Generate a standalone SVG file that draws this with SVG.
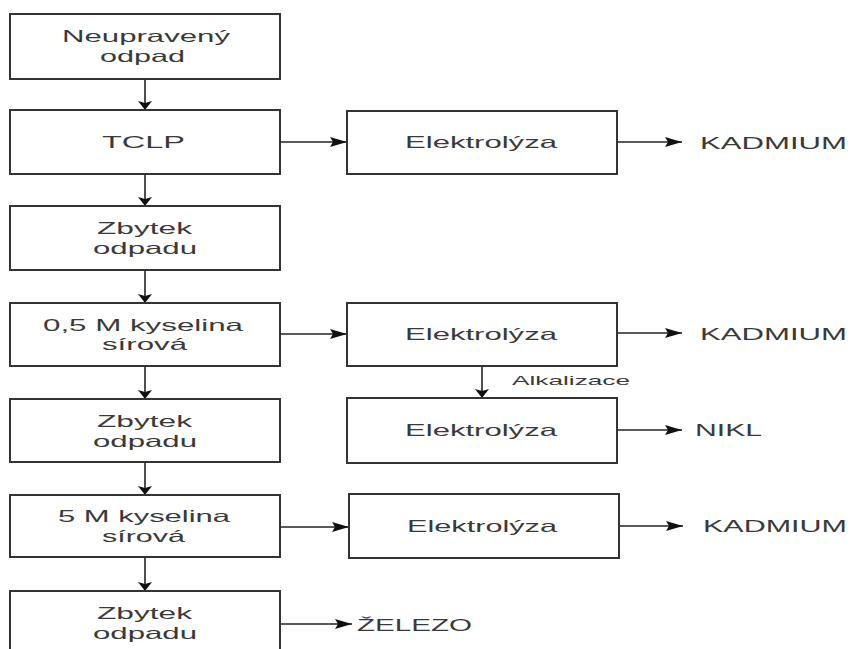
<svg xmlns="http://www.w3.org/2000/svg" width="851" height="649" viewBox="0 0 851 649">
<style>
.box{fill:#fff;stroke:#333;stroke-width:2}
.t{font-family:"Liberation Sans",Arial,sans-serif;font-size:16.5px;fill:#3a3a3a}
.s{font-family:"Liberation Sans",Arial,sans-serif;font-size:13px;fill:#3a3a3a}
.c{fill:none;stroke:#222;stroke-width:1.6}
.h{marker-end:url(#ah)}
.v{marker-end:url(#av)}
</style>
<defs>
<marker id="ah" markerUnits="userSpaceOnUse" markerWidth="17" markerHeight="10" viewBox="0 0 17 10" refX="17" refY="5" orient="auto">
<path d="M0,0 L17,5 L0,10 L3,5 z" fill="#111"/>
</marker>
<marker id="av" markerUnits="userSpaceOnUse" markerWidth="9" markerHeight="14" viewBox="0 0 9 14" refX="9" refY="7" orient="auto">
<path d="M0,0 L9,7 L0,14 L2,7 z" fill="#111"/>
</marker>
</defs>
<rect width="851" height="649" fill="#fff"/>
<g id="connectors">
<path class="c v" d="M145,79 V110"/>
<path class="c v" d="M145,174 V206"/>
<path class="c v" d="M145,270 V303"/>
<path class="c v" d="M145,366 V399"/>
<path class="c v" d="M145,462 V495"/>
<path class="c v" d="M145,557 V591"/>
<path class="c h" d="M280,142 H347"/>
<path class="c h" d="M280,334 H347"/>
<path class="c h" d="M280,527 H349"/>
<path class="c h" d="M280,624 H352"/>
<path class="c h" d="M617,142 H682"/>
<path class="c h" d="M617,333 H682"/>
<path class="c h" d="M617,430 H682"/>
<path class="c h" d="M619,526 H683"/>
<path class="c v" d="M482,366 V398"/>
<text class="s" x="512" y="385" textLength="118" lengthAdjust="spacingAndGlyphs">Alkalizace</text>
</g>
<g id="n1"><rect class="box" x="10" y="14" width="270" height="65"/>
<text class="t" x="62" y="42" textLength="168" lengthAdjust="spacingAndGlyphs">Neupravený</text>
<text class="t" x="100" y="62" textLength="85" lengthAdjust="spacingAndGlyphs">odpad</text></g>
<g id="n2"><rect class="box" x="10" y="110" width="270" height="64"/>
<text class="t" x="102" y="148" textLength="83" lengthAdjust="spacingAndGlyphs">TCLP</text></g>
<g id="n3"><rect class="box" x="10" y="206" width="270" height="64"/>
<text class="t" x="97" y="234" textLength="95" lengthAdjust="spacingAndGlyphs">Zbytek</text>
<text class="t" x="93" y="254" textLength="104" lengthAdjust="spacingAndGlyphs">odpadu</text></g>
<g id="n4"><rect class="box" x="10" y="303" width="270" height="63"/>
<text class="t" x="43" y="331" textLength="200" lengthAdjust="spacingAndGlyphs">0,5 M kyselina</text>
<text class="t" x="102" y="350" textLength="85" lengthAdjust="spacingAndGlyphs">sírová</text></g>
<g id="n5"><rect class="box" x="10" y="399" width="270" height="63"/>
<text class="t" x="97" y="427" textLength="95" lengthAdjust="spacingAndGlyphs">Zbytek</text>
<text class="t" x="93" y="447" textLength="104" lengthAdjust="spacingAndGlyphs">odpadu</text></g>
<g id="n6"><rect class="box" x="10" y="495" width="270" height="62"/>
<text class="t" x="58" y="522" textLength="172" lengthAdjust="spacingAndGlyphs">5 M kyselina</text>
<text class="t" x="102" y="542" textLength="83" lengthAdjust="spacingAndGlyphs">sírová</text></g>
<g id="n7"><rect class="box" x="10" y="591" width="270" height="70"/>
<text class="t" x="97" y="619" textLength="95" lengthAdjust="spacingAndGlyphs">Zbytek</text>
<text class="t" x="93" y="639" textLength="104" lengthAdjust="spacingAndGlyphs">odpadu</text></g>
<g id="e1"><rect class="box" x="347" y="111" width="270" height="63"/>
<text class="t" x="405" y="148" textLength="152" lengthAdjust="spacingAndGlyphs">Elektrolýza</text></g>
<g id="e2"><rect class="box" x="347" y="303" width="270" height="63"/>
<text class="t" x="405" y="340" textLength="152" lengthAdjust="spacingAndGlyphs">Elektrolýza</text></g>
<g id="e3"><rect class="box" x="347" y="398" width="270" height="65"/>
<text class="t" x="405" y="436" textLength="152" lengthAdjust="spacingAndGlyphs">Elektrolýza</text></g>
<g id="e4"><rect class="box" x="349" y="494" width="270" height="64"/>
<text class="t" x="407" y="532" textLength="150" lengthAdjust="spacingAndGlyphs">Elektrolýza</text></g>
<g id="o1"><text class="t" x="700" y="149" textLength="147" lengthAdjust="spacingAndGlyphs">KADMIUM</text></g>
<g id="o2"><text class="t" x="700" y="340" textLength="147" lengthAdjust="spacingAndGlyphs">KADMIUM</text></g>
<g id="o3"><text class="t" x="695" y="436" textLength="67" lengthAdjust="spacingAndGlyphs">NIKL</text></g>
<g id="o4"><text class="t" x="703" y="532" textLength="144" lengthAdjust="spacingAndGlyphs">KADMIUM</text></g>
<g id="o5"><text class="t" x="357" y="631" textLength="115" lengthAdjust="spacingAndGlyphs">ŽELEZO</text></g>
</svg>
